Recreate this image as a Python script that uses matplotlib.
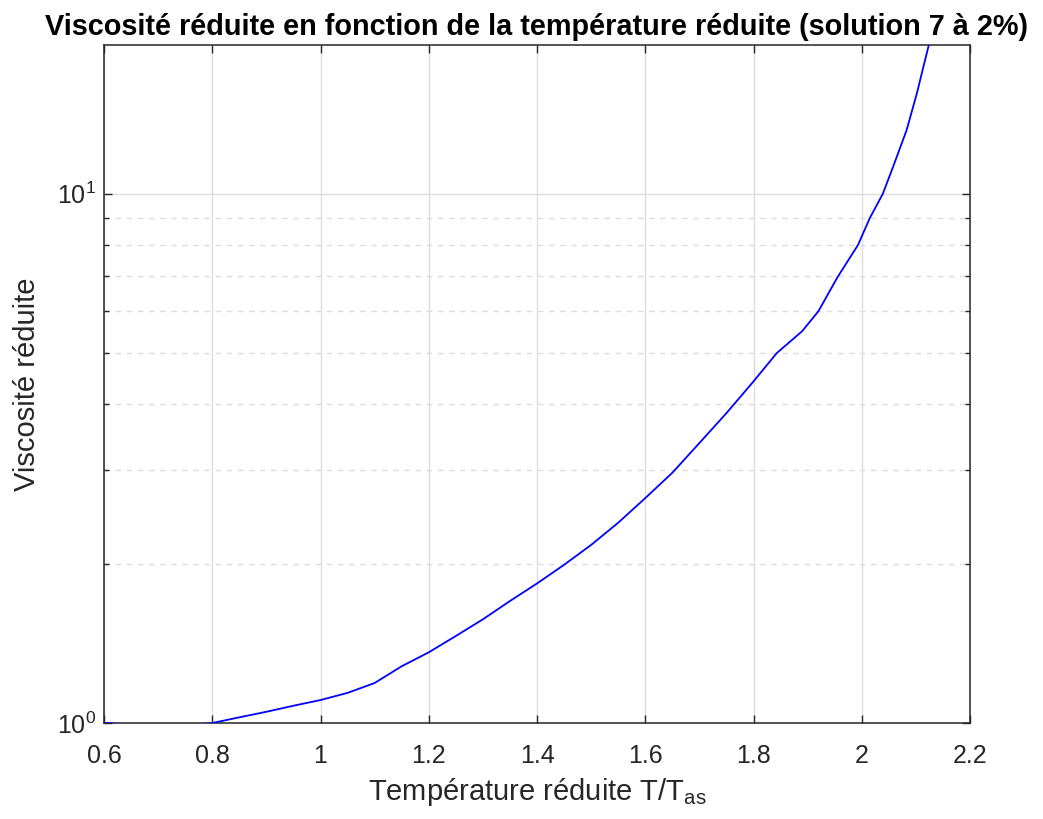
import matplotlib
matplotlib.use("Agg")
import matplotlib.pyplot as plt
from matplotlib.ticker import FixedLocator, NullFormatter

plt.rcParams['font.family'] = ['Liberation Sans', 'DejaVu Sans']
plt.rcParams['mathtext.fontset'] = 'custom'
plt.rcParams['mathtext.rm'] = 'Liberation Sans'
plt.rcParams['mathtext.it'] = 'Liberation Sans'

# Data
temp_red = [0.6, 0.65, 0.7, 0.75, 0.8, 0.85, 0.9, 0.95, 1.0, 1.05, 1.1, 1.15,
            1.2, 1.25, 1.3, 1.35, 1.4, 1.45, 1.5, 1.55, 1.6, 1.65, 1.7, 1.75,
            1.8, 1.843, 1.89, 1.92, 1.955, 1.993, 2.015, 2.039,
            2.058, 2.083, 2.102, 2.111, 2.125]
visc_red = [1.0, 0.993, 0.988, 0.99, 1.0, 1.025, 1.05, 1.078, 1.105, 1.14, 1.19, 1.28,
            1.36, 1.46, 1.57, 1.70, 1.835, 1.99, 2.17, 2.39, 2.66, 2.97, 3.38, 3.85,
            4.42, 5.0, 5.5, 6.0, 6.95, 8.0, 9.0, 10.0,
            11.25, 13.2, 15.5, 16.9, 19.3]

x_ticks = [0.6, 0.8, 1.0, 1.2, 1.4, 1.6, 1.8, 2.0, 2.2]
x_tick_labels = ['0.6', '0.8', '1', '1.2', '1.4', '1.6', '1.8', '2', '2.2']
y_major = [1, 10]
y_major_labels = [r'$\mathregular{10^{0}}$', r'$\mathregular{10^{1}}$']
y_minor = [2, 3, 4, 5, 6, 7, 8, 9]

title = 'Viscosité réduite en fonction de la température réduite (solution 7 à 2%)'
xlabel = r'Température réduite T/T$_{\mathregular{as}}$'
ylabel = 'Viscosité réduite'

W, H = 1043, 819
fig = plt.figure(figsize=(W / 100, H / 100), dpi=100)
ax = fig.add_axes([104 / W, 1 - 723 / H, (970 - 104) / W, (723 - 45) / H])

dark = '#262626'
ax.plot(temp_red, visc_red, color='#0000ff', lw=1.3, zorder=5)
ax.set_yscale('log')
ax.set_xlim(0.6, 2.2)
ax.set_ylim(1, 19.1)

ax.xaxis.set_major_locator(FixedLocator(x_ticks))
ax.set_xticklabels(x_tick_labels)
ax.yaxis.set_major_locator(FixedLocator(y_major))
ax.set_yticklabels(y_major_labels)
ax.yaxis.set_minor_locator(FixedLocator(y_minor))
ax.yaxis.set_minor_formatter(NullFormatter())
ax.xaxis.set_minor_locator(FixedLocator([]))

ax.grid(True, which='major', color='#dcdcdc', lw=1.0, ls='-', zorder=0)
ax.grid(True, which='minor', axis='y', color='#dcdcdc', lw=1.0, ls=(0, (4, 4)), zorder=0)

ax.tick_params(which='both', direction='in', top=True, right=True, colors=dark,
               labelsize=18)
ax.tick_params(which='major', length=6, width=1)
ax.tick_params(which='minor', length=3.5, width=1)
ax.tick_params(axis='x', pad=15)
ax.tick_params(axis='y', pad=6)
for s in ax.spines.values():
    s.set_color(dark)
    s.set_linewidth(1.1)
    s.set_zorder(4)

ax.set_title(title, fontsize=20.8, fontweight='bold', color='black', pad=7)
ax.set_xlabel(xlabel, fontsize=21, color=dark, labelpad=6)
ax.set_ylabel(ylabel, fontsize=21, color=dark, labelpad=11)

fig.savefig('out.png', dpi=100)
